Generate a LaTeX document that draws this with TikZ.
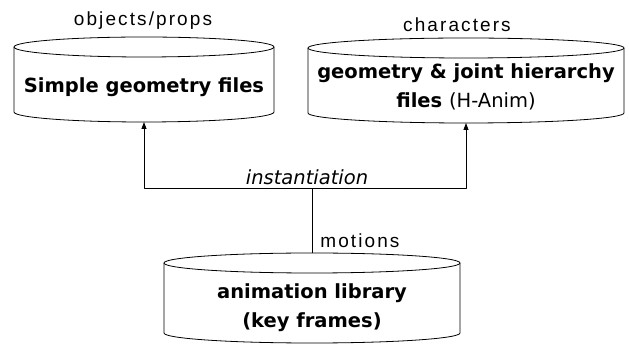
\documentclass[tikz,border=0pt]{standalone}
\usepackage{fontspec}
\setmainfont{DejaVu Sans}
\newfontfamily\lblfont[LetterSpace=11]{Liberation Sans}
\usetikzlibrary{arrows.meta}
\tikzset{
  dbtext/.style={inner sep=0pt,align=center,font=\bfseries\fontsize{19.5}{29}\selectfont},
  lbl/.style={font=\lblfont\fontsize{19}{20}\selectfont,inner sep=0pt,anchor=base}
}
\begin{document}
\begin{tikzpicture}[x=1pt,y=1pt,line width=0.8pt,line join=round,>={Triangle[length=7pt,width=5pt]}]
  \useasboundingbox (0,0) rectangle (629,345);
  % the three stores
  \node[dbtext] (geo) at (144,257.5) {Simple geometry files};
  \node[dbtext] (hanim) at (466,258.5) {geometry \& joint hierarchy\\files {\mdseries (H-Anim)}};
  \node[dbtext] (anim) at (312,37) {animation library\\(key frames)};
  \foreach \n/\rx/\tp/\bt in {geo/130/40.5/-24.5,hanim/158/38.5/-26.5,anim/148/45/-25}{
    \draw ([shift={(0,\tp)}]\n.center) ellipse [x radius=\rx,y radius=10];
    \draw ([shift={(-\rx,\tp)}]\n.center) -- ([shift={(-\rx,\bt)}]\n.center)
      arc [start angle=180,end angle=360,x radius=\rx,y radius=10]
      -- ([shift={(\rx,\tp)}]\n.center);
    \coordinate (\n-top) at ([shift={(0,\tp+10)}]\n.center);
    \coordinate (\n-bot) at ([shift={(0,\bt-10)}]\n.center);
  }
  % labels above
  \node[lbl] (props) at (143,319) {objects/props};
  \node[lbl] (chars) at (457,313) {characters};
  % connectors
  \coordinate (split) at (312,157);
  \draw (anim-top) -- (split);
  \draw[->] (split) -| (geo-bot);
  \draw[->] (split) -| (hanim-bot);
  \node[lbl,font=\itshape\fontsize{19.5}{20}\selectfont] (inst) at (307,160) {instantiation};
  \node[lbl,anchor=base west] (mot) at (320,97) {motions};
\end{tikzpicture}
\end{document}
